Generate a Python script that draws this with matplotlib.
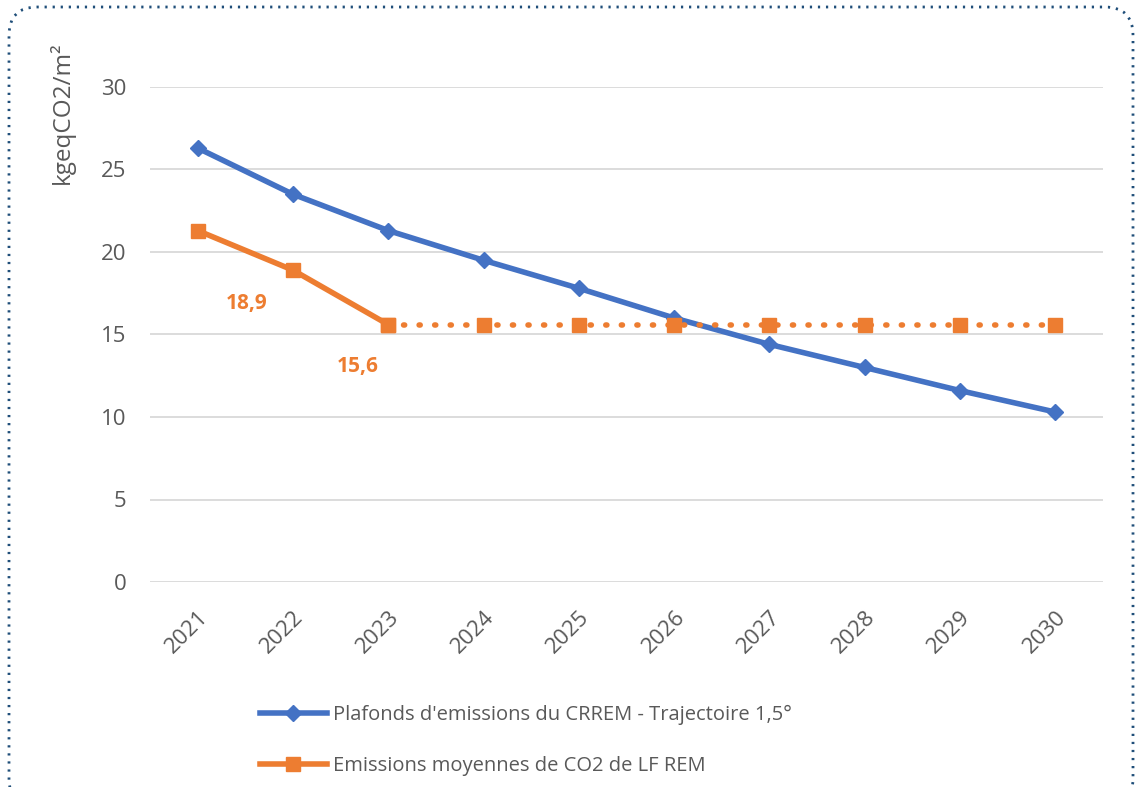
import matplotlib.pyplot as plt
from matplotlib.patches import FancyBboxPatch
from matplotlib.lines import Line2D

plt.rcParams['font.family'] = ['Open Sans', 'DejaVu Sans']

# Donnees
annees = [2021, 2022, 2023, 2024, 2025, 2026, 2027, 2028, 2029, 2030]
plafonds_crrem = [26.3, 23.5, 21.3, 19.5, 17.8, 16.0, 14.4, 13.0, 11.6, 10.3]
annees_reel = [2021, 2022, 2023]
emissions_reel = [21.3, 18.9, 15.6]
annees_proj = [2023, 2024, 2025, 2026, 2027, 2028, 2029, 2030]
emissions_proj = [15.6, 15.6, 15.6, 15.6, 15.6, 15.6, 15.6, 15.6]
etiquettes = [(2022, 18.9, '18,9'), (2023, 15.6, '15,6')]
decalages = [(-33, -24), (-22, -30)]  # points

bleu = '#4472C4'
orange = '#ED7D31'
gris = '#595959'

fig = plt.figure(figsize=(11.35, 7.87), dpi=100)
ax = fig.add_axes([150/1135, 1 - 582/787, (1103-150)/1135, (582-87)/787])

ax.plot(annees, plafonds_crrem, color=bleu, lw=4, marker='D', ms=8.5,
        solid_capstyle='round', zorder=3)
ax.plot(annees_proj, emissions_proj, color=orange, lw=4, ls=(0, (0.2, 2.6)),
        dash_capstyle='round', marker='s', ms=10, zorder=4)
ax.plot(annees_reel, emissions_reel, color=orange, lw=4, marker='s', ms=10,
        zorder=5)

for (x, y, t), d in zip(etiquettes, decalages):
    ax.annotate(t, (x, y), xytext=d, textcoords='offset points',
                color=orange, fontsize=15, fontweight='bold', ha='center', va='center')

ax.set_xlim(2020.5, 2030.5)
ax.set_ylim(0, 30)
ax.set_yticks([0, 5, 10, 15, 20, 25, 30])
ax.set_xticks(annees)
ax.set_xticklabels([str(a) for a in annees], rotation=45, ha='right',
                   rotation_mode='anchor')
ax.tick_params(length=0, colors=gris, labelsize=16)
ax.tick_params(axis='y', pad=17)
ax.tick_params(axis='x', pad=18)
ax.grid(axis='y', color='#D9D9D9', lw=1.3)
ax.set_axisbelow(True)
for s in ax.spines.values():
    s.set_visible(False)

fig.text(62/1135, 1 - 113/787, 'kgeqCO2/m²', rotation=90, fontsize=17.5,
         color=gris, ha='center', va='center')

handles = [
    Line2D([], [], color=bleu, lw=4, marker='D', ms=8.5),
    Line2D([], [], color=orange, lw=4, marker='s', ms=10),
]
fig.legend(handles,
           ["Plafonds d'emissions du CRREM - Trajectoire 1,5°",
            'Emissions moyennes de CO2 de LF REM'],
           loc='upper left', bbox_to_anchor=(252/1135, 1 - 697/787),
           frameon=False, fontsize=14.5, labelcolor=gris, handlelength=3.3,
           handletextpad=0.3, labelspacing=1.55, borderaxespad=0)

# cadre pointille arrondi (le bas sort de l'image)
cadre = FancyBboxPatch((9/1135, -20/787), 1124/1135, 800/787,
                       boxstyle='round,pad=0,rounding_size=0.025',
                       transform=fig.transFigure, fill=False,
                       edgecolor='#1F4E79', lw=2, ls=(0, (0.8, 2.1)),
                       mutation_aspect=1135/787, clip_on=False)
fig.patches.append(cadre)

fig.savefig('out.png', dpi=100)
